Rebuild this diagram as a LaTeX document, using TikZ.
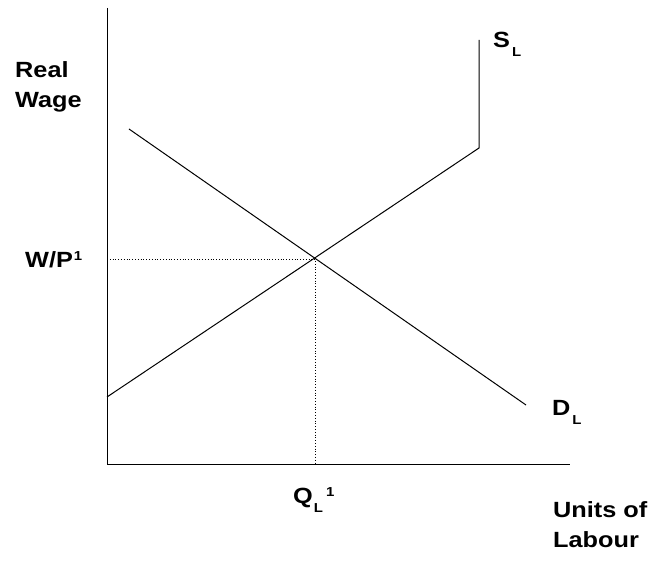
\documentclass[tikz,border=0pt]{standalone}
\usepackage{fontspec}
\setmainfont{Liberation Sans}[FakeStretch=1.15]
\usetikzlibrary{math}

\newcommand{\lowL}{\raisebox{-9pt}{\fontsize{13}{13}\selectfont L}}
\newcommand{\upone}{\raisebox{7pt}{\fontsize{13}{13}\selectfont 1}}

\begin{document}
\begin{tikzpicture}[x=1pt,y=-1pt,
  lbl/.style={font=\fontsize{22}{30}\selectfont\bfseries, inner sep=0pt},
  curve/.style={line width=1pt},
  guide/.style={line width=0.8pt, dotted}]
\tikzmath{
\ox=107; \oy=464;
\ex=315; \ey=259;
}
\useasboundingbox (0,0) rectangle (651,561);

%axes
\coordinate (top) at (\ox,8);
\coordinate (org) at (\ox,\oy);
\coordinate (right) at (570,\oy);
\draw[curve] (top) -- (org) -- (right);

%demand
\coordinate (d1) at (129,129);
\coordinate (d2) at (526,405);
\draw[curve] (d1) -- (d2);

%supply
\coordinate (s1) at (\ox,397);
\coordinate (s2) at (479,148);
\coordinate (s3) at (479,40);
\draw[curve] (s1) -- (s2) -- (s3);

%equilibrium
\coordinate (eq) at (\ex,\ey);
\coordinate (eqy) at (\ox,\ey);
\coordinate (eqx) at (\ex,\oy);
\draw[guide] (eqy) -- (eq) -- (eqx);

%labels
\node[lbl, anchor=base west, align=left] (ylab) at (15,108) {Real\\Wage};
\node[lbl, anchor=base west] (wp) at (25,268) {W/P\kern1pt\upone};
\node[lbl, anchor=base west] (ql) at (293,503) {Q\kern1pt\lowL\kern3pt\upone};
\node[lbl, anchor=base west] (sl) at (493,48) {S\kern2pt\lowL};
\node[lbl, anchor=base west] (dl) at (552,416) {D\kern2pt\lowL};
\node[lbl, anchor=base west, align=left] (xlab) at (553,547) {Units of\\Labour};
\end{tikzpicture}
\end{document}
